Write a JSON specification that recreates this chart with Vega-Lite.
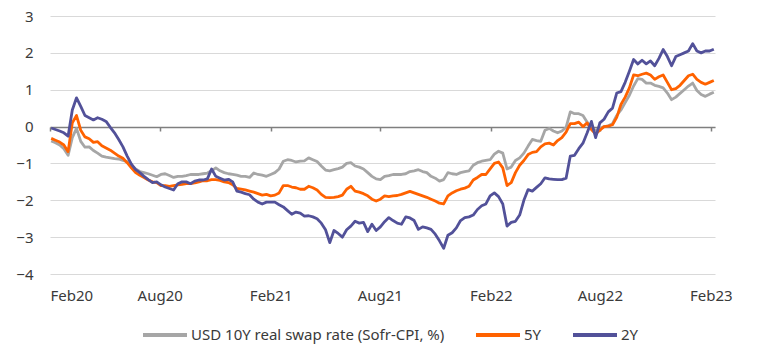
{
"$schema": "https://vega.github.io/schema/vega-lite/v6.json",
"width": 665, "height": 258,
"autosize": {"type": "none"},
"padding": {"left": 50, "top": 16, "right": 42, "bottom": 80},
"background": "white",
"config": {"view": {"stroke": null}, "font": "Noto Sans",
  "axis": {"labelFont": "Noto Sans", "labelFontSize": 15, "labelColor": "#3a3a3a"},
  "legend": {"labelFont": "Noto Sans"}},
"data": {"values": [
{"d":"2020-02-03","ten":-0.39,"five":-0.32,"two":-0.04},
{"d":"2020-02-10","ten":-0.44,"five":-0.37,"two":-0.08},
{"d":"2020-02-17","ten":-0.5,"five":-0.42,"two":-0.12},
{"d":"2020-02-24","ten":-0.6,"five":-0.5,"two":-0.17},
{"d":"2020-03-02","ten":-0.78,"five":-0.68,"two":-0.26},
{"d":"2020-03-09","ten":-0.3,"five":0.1,"two":0.45},
{"d":"2020-03-16","ten":-0.05,"five":0.3,"two":0.78},
{"d":"2020-03-23","ten":-0.4,"five":-0.1,"two":0.55},
{"d":"2020-03-30","ten":-0.56,"five":-0.28,"two":0.3},
{"d":"2020-04-06","ten":-0.55,"five":-0.33,"two":0.24},
{"d":"2020-04-13","ten":-0.65,"five":-0.43,"two":0.18},
{"d":"2020-04-20","ten":-0.72,"five":-0.41,"two":0.24},
{"d":"2020-04-27","ten":-0.8,"five":-0.52,"two":0.2},
{"d":"2020-05-04","ten":-0.83,"five":-0.58,"two":0.14},
{"d":"2020-05-11","ten":-0.85,"five":-0.64,"two":-0.02},
{"d":"2020-05-18","ten":-0.87,"five":-0.72,"two":-0.17},
{"d":"2020-05-25","ten":-0.88,"five":-0.8,"two":-0.35},
{"d":"2020-06-01","ten":-0.92,"five":-0.86,"two":-0.55},
{"d":"2020-06-08","ten":-0.95,"five":-0.98,"two":-0.8},
{"d":"2020-06-15","ten":-1.05,"five":-1.12,"two":-1.02},
{"d":"2020-06-22","ten":-1.15,"five":-1.25,"two":-1.17},
{"d":"2020-06-29","ten":-1.22,"five":-1.32,"two":-1.25},
{"d":"2020-07-06","ten":-1.25,"five":-1.38,"two":-1.35},
{"d":"2020-07-13","ten":-1.28,"five":-1.45,"two":-1.44},
{"d":"2020-07-20","ten":-1.32,"five":-1.5,"two":-1.52},
{"d":"2020-07-27","ten":-1.36,"five":-1.52,"two":-1.5},
{"d":"2020-08-03","ten":-1.3,"five":-1.6,"two":-1.58},
{"d":"2020-08-10","ten":-1.28,"five":-1.6,"two":-1.64},
{"d":"2020-08-17","ten":-1.33,"five":-1.62,"two":-1.68},
{"d":"2020-08-24","ten":-1.38,"five":-1.6,"two":-1.72},
{"d":"2020-08-31","ten":-1.35,"five":-1.58,"two":-1.55},
{"d":"2020-09-07","ten":-1.35,"five":-1.57,"two":-1.5},
{"d":"2020-09-14","ten":-1.33,"five":-1.55,"two":-1.5},
{"d":"2020-09-21","ten":-1.3,"five":-1.55,"two":-1.55},
{"d":"2020-09-28","ten":-1.3,"five":-1.53,"two":-1.48},
{"d":"2020-10-05","ten":-1.3,"five":-1.5,"two":-1.45},
{"d":"2020-10-12","ten":-1.28,"five":-1.47,"two":-1.45},
{"d":"2020-10-19","ten":-1.26,"five":-1.47,"two":-1.42},
{"d":"2020-10-26","ten":-1.2,"five":-1.44,"two":-1.15},
{"d":"2020-11-02","ten":-1.12,"five":-1.44,"two":-1.35},
{"d":"2020-11-09","ten":-1.2,"five":-1.46,"two":-1.4},
{"d":"2020-11-16","ten":-1.25,"five":-1.5,"two":-1.45},
{"d":"2020-11-23","ten":-1.28,"five":-1.52,"two":-1.43},
{"d":"2020-11-30","ten":-1.3,"five":-1.58,"two":-1.5},
{"d":"2020-12-07","ten":-1.32,"five":-1.68,"two":-1.75},
{"d":"2020-12-14","ten":-1.35,"five":-1.7,"two":-1.78},
{"d":"2020-12-21","ten":-1.35,"five":-1.72,"two":-1.82},
{"d":"2020-12-28","ten":-1.38,"five":-1.75,"two":-1.85},
{"d":"2021-01-04","ten":-1.26,"five":-1.78,"two":-1.97},
{"d":"2021-01-11","ten":-1.3,"five":-1.82,"two":-2.05},
{"d":"2021-01-18","ten":-1.32,"five":-1.86,"two":-2.1},
{"d":"2021-01-25","ten":-1.35,"five":-1.84,"two":-2.05},
{"d":"2021-02-01","ten":-1.3,"five":-1.88,"two":-2.05},
{"d":"2021-02-08","ten":-1.25,"five":-1.86,"two":-2.05},
{"d":"2021-02-15","ten":-1.15,"five":-1.8,"two":-2.12},
{"d":"2021-02-22","ten":-0.94,"five":-1.6,"two":-2.18},
{"d":"2021-03-01","ten":-0.9,"five":-1.6,"two":-2.28},
{"d":"2021-03-08","ten":-0.92,"five":-1.64,"two":-2.38},
{"d":"2021-03-15","ten":-0.96,"five":-1.66,"two":-2.32},
{"d":"2021-03-22","ten":-0.94,"five":-1.7,"two":-2.35},
{"d":"2021-03-29","ten":-0.93,"five":-1.7,"two":-2.43},
{"d":"2021-04-05","ten":-0.85,"five":-1.62,"two":-2.42},
{"d":"2021-04-12","ten":-0.9,"five":-1.66,"two":-2.45},
{"d":"2021-04-19","ten":-0.95,"five":-1.72,"two":-2.5},
{"d":"2021-04-26","ten":-1.07,"five":-1.84,"two":-2.62},
{"d":"2021-05-03","ten":-1.18,"five":-1.92,"two":-2.8},
{"d":"2021-05-10","ten":-1.2,"five":-1.93,"two":-3.15},
{"d":"2021-05-17","ten":-1.17,"five":-1.92,"two":-2.82},
{"d":"2021-05-24","ten":-1.14,"five":-1.9,"two":-2.9},
{"d":"2021-05-31","ten":-1.1,"five":-1.86,"two":-3.0},
{"d":"2021-06-07","ten":-1.0,"five":-1.7,"two":-2.8},
{"d":"2021-06-14","ten":-0.98,"five":-1.62,"two":-2.7},
{"d":"2021-06-21","ten":-1.07,"five":-1.75,"two":-2.57},
{"d":"2021-06-28","ten":-1.1,"five":-1.78,"two":-2.62},
{"d":"2021-07-05","ten":-1.15,"five":-1.82,"two":-2.6},
{"d":"2021-07-12","ten":-1.25,"five":-1.88,"two":-2.85},
{"d":"2021-07-19","ten":-1.35,"five":-1.97,"two":-2.65},
{"d":"2021-07-26","ten":-1.42,"five":-2.02,"two":-2.82},
{"d":"2021-08-02","ten":-1.44,"five":-1.97,"two":-2.72},
{"d":"2021-08-09","ten":-1.35,"five":-1.88,"two":-2.58},
{"d":"2021-08-16","ten":-1.33,"five":-1.9,"two":-2.47},
{"d":"2021-08-23","ten":-1.3,"five":-1.88,"two":-2.55},
{"d":"2021-08-30","ten":-1.3,"five":-1.87,"two":-2.62},
{"d":"2021-09-06","ten":-1.3,"five":-1.84,"two":-2.65},
{"d":"2021-09-13","ten":-1.28,"five":-1.8,"two":-2.45},
{"d":"2021-09-20","ten":-1.22,"five":-1.76,"two":-2.48},
{"d":"2021-09-27","ten":-1.2,"five":-1.8,"two":-2.55},
{"d":"2021-10-04","ten":-1.17,"five":-1.84,"two":-2.79},
{"d":"2021-10-11","ten":-1.22,"five":-1.88,"two":-2.72},
{"d":"2021-10-18","ten":-1.25,"five":-1.92,"two":-2.75},
{"d":"2021-10-25","ten":-1.35,"five":-1.97,"two":-2.79},
{"d":"2021-11-01","ten":-1.4,"five":-2.02,"two":-2.92},
{"d":"2021-11-08","ten":-1.48,"five":-2.08,"two":-3.1},
{"d":"2021-11-15","ten":-1.44,"five":-2.1,"two":-3.3},
{"d":"2021-11-22","ten":-1.25,"five":-1.88,"two":-2.95},
{"d":"2021-11-29","ten":-1.28,"five":-1.8,"two":-2.88},
{"d":"2021-12-06","ten":-1.3,"five":-1.74,"two":-2.75},
{"d":"2021-12-13","ten":-1.25,"five":-1.7,"two":-2.55},
{"d":"2021-12-20","ten":-1.22,"five":-1.67,"two":-2.47},
{"d":"2021-12-27","ten":-1.2,"five":-1.62,"two":-2.45},
{"d":"2022-01-03","ten":-1.05,"five":-1.45,"two":-2.4},
{"d":"2022-01-10","ten":-0.98,"five":-1.38,"two":-2.25},
{"d":"2022-01-17","ten":-0.94,"five":-1.3,"two":-2.15},
{"d":"2022-01-24","ten":-0.92,"five":-1.3,"two":-2.1},
{"d":"2022-01-31","ten":-0.9,"five":-1.15,"two":-1.88},
{"d":"2022-02-07","ten":-0.75,"five":-1.0,"two":-1.8},
{"d":"2022-02-14","ten":-0.67,"five":-0.96,"two":-1.9},
{"d":"2022-02-21","ten":-0.72,"five":-1.12,"two":-2.1},
{"d":"2022-02-28","ten":-1.15,"five":-1.6,"two":-2.7},
{"d":"2022-03-07","ten":-1.1,"five":-1.52,"two":-2.6},
{"d":"2022-03-14","ten":-0.92,"five":-1.25,"two":-2.57},
{"d":"2022-03-21","ten":-0.85,"five":-1.05,"two":-2.4},
{"d":"2022-03-28","ten":-0.72,"five":-0.92,"two":-2.0},
{"d":"2022-04-04","ten":-0.53,"five":-0.76,"two":-1.71},
{"d":"2022-04-11","ten":-0.35,"five":-0.7,"two":-1.75},
{"d":"2022-04-18","ten":-0.38,"five":-0.68,"two":-1.65},
{"d":"2022-04-25","ten":-0.4,"five":-0.55,"two":-1.55},
{"d":"2022-05-02","ten":-0.1,"five":-0.47,"two":-1.39},
{"d":"2022-05-09","ten":-0.05,"five":-0.45,"two":-1.42},
{"d":"2022-05-16","ten":-0.12,"five":-0.5,"two":-1.43},
{"d":"2022-05-23","ten":-0.17,"five":-0.38,"two":-1.44},
{"d":"2022-05-30","ten":-0.12,"five":-0.3,"two":-1.44},
{"d":"2022-06-06","ten":-0.02,"five":-0.15,"two":-1.4},
{"d":"2022-06-13","ten":0.4,"five":0.08,"two":-0.8},
{"d":"2022-06-20","ten":0.35,"five":0.08,"two":-0.78},
{"d":"2022-06-27","ten":0.35,"five":0.12,"two":-0.6},
{"d":"2022-07-04","ten":0.3,"five":0.0,"two":-0.45},
{"d":"2022-07-11","ten":0.12,"five":0.1,"two":-0.17},
{"d":"2022-07-18","ten":-0.05,"five":-0.08,"two":0.14},
{"d":"2022-07-25","ten":-0.1,"five":-0.2,"two":-0.3},
{"d":"2022-08-01","ten":-0.05,"five":-0.1,"two":0.1},
{"d":"2022-08-08","ten":0.0,"five":0.0,"two":0.2},
{"d":"2022-08-15","ten":0.02,"five":0.01,"two":0.4},
{"d":"2022-08-22","ten":0.08,"five":0.05,"two":0.5},
{"d":"2022-08-29","ten":0.3,"five":0.25,"two":0.91},
{"d":"2022-09-05","ten":0.45,"five":0.6,"two":0.95},
{"d":"2022-09-12","ten":0.65,"five":0.8,"two":1.2},
{"d":"2022-09-19","ten":0.85,"five":1.05,"two":1.5},
{"d":"2022-09-26","ten":1.1,"five":1.4,"two":1.82},
{"d":"2022-10-03","ten":1.3,"five":1.38,"two":1.7},
{"d":"2022-10-10","ten":1.28,"five":1.42,"two":1.8},
{"d":"2022-10-17","ten":1.18,"five":1.45,"two":1.7},
{"d":"2022-10-24","ten":1.18,"five":1.4,"two":1.78},
{"d":"2022-10-31","ten":1.12,"five":1.28,"two":1.65},
{"d":"2022-11-07","ten":1.09,"five":1.35,"two":1.85},
{"d":"2022-11-14","ten":1.05,"five":1.4,"two":2.09},
{"d":"2022-11-21","ten":0.91,"five":1.2,"two":1.9},
{"d":"2022-11-28","ten":0.73,"five":1.0,"two":1.65},
{"d":"2022-12-05","ten":0.8,"five":1.03,"two":1.9},
{"d":"2022-12-12","ten":0.9,"five":1.12,"two":1.95},
{"d":"2022-12-19","ten":1.0,"five":1.25,"two":2.0},
{"d":"2022-12-26","ten":1.1,"five":1.38,"two":2.05},
{"d":"2023-01-02","ten":1.18,"five":1.42,"two":2.25},
{"d":"2023-01-09","ten":0.98,"five":1.28,"two":2.05},
{"d":"2023-01-16","ten":0.87,"five":1.2,"two":2.0},
{"d":"2023-01-23","ten":0.82,"five":1.15,"two":2.05},
{"d":"2023-01-30","ten":0.88,"five":1.2,"two":2.05},
{"d":"2023-02-06","ten":0.93,"five":1.25,"two":2.1}
]},
"layer": [
 {"mark": {"type": "line", "strokeWidth": 2.8, "strokeJoin": "round"},
  "encoding": {
   "x": {"field": "d", "type": "temporal",
     "scale": {"type": "utc", "nice": false, "domain": [{"year": 2020, "month": 2, "date": 1, "utc": true}, {"year": 2023, "month": 2, "date": 8, "utc": true}]},
     "axis": null},
   "y": {"field": "ten", "type": "quantitative", "scale": {"domain": [-4, 3], "nice": false},
     "axis": {"title": null, "values": [-4, -3, -2, -1, 0, 1, 2, 3], "domain": false, "ticks": false, "grid": true, "gridColor": "#d9d9d9", "labelPadding": 17, "labelOverlap": false}},
   "color": {"datum": "ten", "type": "nominal",
     "scale": {"domain": ["ten", "five", "two"], "range": ["#a6a6a6", "#ff6200", "#525199"]},
     "legend": {"title": null, "orient": "none", "legendX": 91, "legendY": 295, "direction": "horizontal",
       "symbolType": "stroke", "symbolSize": 1936, "symbolStrokeWidth": 4, "labelFontSize": 15, "labelColor": "#3a3a3a",
       "labelLimit": 400, "columnPadding": 23, "labelOffset": 2, "gridAlign": "none",
       "labelExpr": "datum.label == 'ten' ? 'USD 10Y real swap rate (Sofr-CPI, %)' : datum.label == 'five' ? '5Y' : '2Y'"}}
  }},
 {"mark": {"type": "line", "strokeWidth": 2.8, "strokeJoin": "round"},
  "encoding": {
   "x": {"field": "d", "type": "temporal",
     "axis": {"title": null, "orient": "bottom", "offset": -147, "labels": false, "grid": false, "domain": true, "domainColor": "#7f7f7f", "domainWidth": 1.5,
       "ticks": true, "tickColor": "#7f7f7f", "tickSize": 4, "tickWidth": 1.5,
       "values": [{"year": 2020, "month": 2, "date": 1, "utc": true}, {"year": 2020, "month": 8, "date": 1, "utc": true}, {"year": 2021, "month": 2, "date": 1, "utc": true}, {"year": 2021, "month": 8, "date": 1, "utc": true}, {"year": 2022, "month": 2, "date": 1, "utc": true}, {"year": 2022, "month": 8, "date": 1, "utc": true}, {"year": 2023, "month": 2, "date": 1, "utc": true}]}},
   "y": {"field": "five", "type": "quantitative",
     "axis": {"title": null, "values": [-4, -3, -2, -1, 0, 1, 2, 3], "domain": false, "ticks": false, "grid": true, "gridColor": "#d9d9d9", "labelPadding": 17, "labelOverlap": false}},
   "color": {"datum": "five", "type": "nominal"}
  }},
 {"mark": {"type": "line", "strokeWidth": 2.8, "strokeJoin": "round"},
  "encoding": {
   "x": {"field": "d", "type": "temporal",
     "axis": {"title": null, "orient": "bottom", "format": "%b%y", "labelPadding": 14, "domain": false, "ticks": false, "grid": false,
       "values": [{"year": 2020, "month": 2, "date": 1, "utc": true}, {"year": 2020, "month": 8, "date": 1, "utc": true}, {"year": 2021, "month": 2, "date": 1, "utc": true}, {"year": 2021, "month": 8, "date": 1, "utc": true}, {"year": 2022, "month": 2, "date": 1, "utc": true}, {"year": 2022, "month": 8, "date": 1, "utc": true}, {"year": 2023, "month": 2, "date": 1, "utc": true}]}},
   "y": {"field": "two", "type": "quantitative",
     "axis": {"title": null, "values": [-4, -3, -2, -1, 0, 1, 2, 3], "domain": false, "ticks": false, "grid": true, "gridColor": "#d9d9d9", "labelPadding": 17, "labelOverlap": false}},
   "color": {"datum": "two", "type": "nominal"}
  }}
],
"resolve": {"axis": {"x": "independent"}}
}
